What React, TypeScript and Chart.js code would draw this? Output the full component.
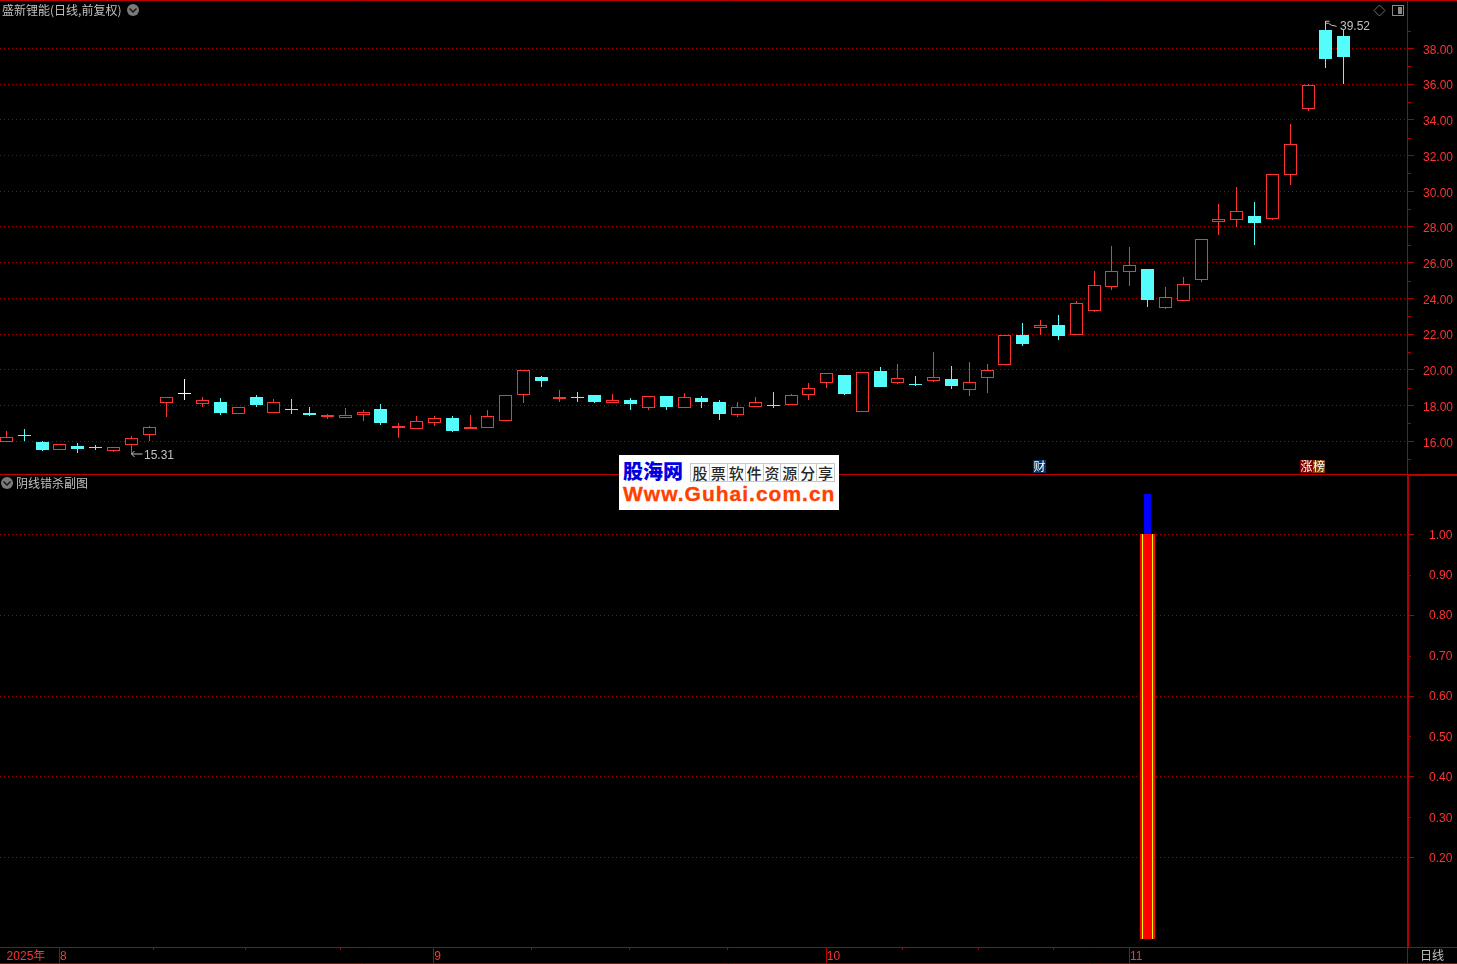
import React, { useEffect, useRef } from "react";
import { Chart, registerables } from "chart.js";

Chart.register(...registerables);

const opens = [15.98,16.34,15.96,15.53,15.74,15.68,15.47,15.81,16.37,18.16,18.72,18.11,18.20,17.55,18.48,17.60,17.81,17.58,17.36,17.32,17.46,17.81,16.73,16.71,17.04,17.30,16.69,16.76,17.15,18.58,19.60,18.37,18.48,18.59,18.16,18.31,17.88,18.54,17.88,18.42,18.20,17.49,17.90,18.02,18.05,18.61,19.28,19.71,17.66,19.94,19.26,19.19,19.39,19.49,18.89,19.56,20.29,21.95,22.36,22.50,21.97,23.31,24.66,25.50,25.65,23.48,23.87,25.05,28.30,28.41,28.62,28.47,30.93,34.59,39.03,38.70];
const closes = [16.22,16.34,15.53,15.83,15.57,15.62,15.66,16.17,16.78,18.46,18.72,18.30,17.58,17.90,18.03,18.18,17.81,17.47,17.47,17.46,17.62,17.02,16.84,17.12,17.29,16.58,16.80,17.42,18.58,19.98,19.38,18.48,18.48,18.20,18.31,18.09,18.52,17.92,18.48,18.20,17.53,17.90,18.18,18.02,18.58,18.97,19.81,18.65,19.86,19.04,19.53,19.19,19.58,19.10,19.30,19.98,21.95,21.45,22.50,21.90,23.73,24.74,25.52,25.86,23.91,24.06,24.79,27.31,28.43,28.88,28.22,30.97,32.63,35.94,37.41,37.52];
const lows = [15.98,16.02,15.44,15.53,15.34,15.51,15.42,15.31,16.02,17.38,18.31,17.92,17.47,17.55,17.92,17.60,17.53,17.42,17.25,17.32,17.14,16.91,16.18,16.71,16.86,16.52,16.69,16.76,17.15,18.14,19.04,18.20,18.20,18.14,18.16,17.75,17.75,17.75,17.88,17.86,17.19,17.36,17.90,17.86,18.05,18.31,18.98,18.59,17.66,19.04,19.21,19.10,19.32,18.93,18.54,18.71,20.29,21.33,21.95,21.67,21.97,23.24,24.47,24.70,23.52,23.41,23.87,24.94,27.55,28.00,27.00,28.41,30.37,34.51,36.92,36.00];
const highs = [16.58,16.69,16.02,15.83,15.90,15.78,15.66,16.30,16.87,18.46,19.49,18.48,18.42,17.90,18.59,18.37,18.37,17.92,17.53,17.86,17.75,18.09,17.02,17.42,17.42,17.42,17.47,17.75,18.58,19.98,19.66,18.87,18.76,18.59,18.65,18.42,18.52,18.54,18.70,18.54,18.31,18.20,18.48,18.76,18.65,19.26,19.81,19.71,19.86,20.16,20.33,19.66,21.00,20.22,20.44,20.33,21.95,22.63,22.79,23.07,23.86,25.54,26.94,26.88,25.65,24.64,25.20,27.31,29.29,30.24,29.40,30.97,33.77,36.00,39.52,39.03];
const whiteDoji = [10];

const priceTicks = [15,16,17,18,19,20,21,22,23,24,25,26,27,28,29,30,31,32,33,34,35,36,37,38,39];
const oscTicks = [0.2,0.3,0.4,0.5,0.6,0.7,0.8,0.9,1.0];

const signalIndex = [64];
const signalBase = [0];
const signalValue = [1];
const signalCap = [1.1];

const monthIndex = [-0.05, 2.94, 23.93, 45.95, 62.95];
const monthLabels = ["2025年", "8", "9", "10", "11"];
const minorTickIndex = [8.2, 13.4, 18.7, 29.4, 34.9, 40.4, 50.2, 54.5, 58.7];

const W = 1457;
const LINE = "#b00000";
const GRID = "#b00000";
const RED = "#ff3232";
const CYAN = "#54fcfc";
const GREY = "#c0c0c0";
const CLEAR = "rgba(0,0,0,0)";
const X_MIN = -6.5 / 17.83;
const X_MAX = (1408 - 6.5) / 17.83;
const NUM_FONT = '"Liberation Sans", "Noto Sans CJK SC", sans-serif';
const CJK_FONT = '"Noto Sans CJK SC", sans-serif';

const snapBars = {
  id: "snapBars",
  afterDatasetsUpdate(chart: any) {
    chart.data.datasets.forEach((_: any, i: number) => {
      chart.getDatasetMeta(i).data.forEach((el: any) => {
        el.x = Math.floor(el.x) + 0.5;
        let top = Math.round(Math.min(el.y, el.base));
        let bot = Math.round(Math.max(el.y, el.base));
        if (bot - top < 1) bot = top + 1;
        el.y = top;
        el.base = bot;
        el.height = bot - top;
      });
    });
  },
};

function line(ctx: any, x0: number, y0: number, x1: number, y1: number, color: string, w = 1) {
  ctx.strokeStyle = color;
  ctx.lineWidth = w;
  ctx.beginPath();
  ctx.moveTo(x0, y0);
  ctx.lineTo(x1, y1);
  ctx.stroke();
}

function chevron(ctx: any, cx: number, cy: number) {
  ctx.fillStyle = "#7a7a7a";
  ctx.beginPath();
  ctx.arc(cx, cy, 6, 0, Math.PI * 2);
  ctx.fill();
  ctx.strokeStyle = "#141414";
  ctx.lineWidth = 1.4;
  ctx.beginPath();
  ctx.moveTo(cx - 3.5, cy - 1.5);
  ctx.lineTo(cx, cy + 2);
  ctx.lineTo(cx + 3.5, cy - 1.5);
  ctx.stroke();
}

function text(ctx: any, s: string, x: number, y: number, color: string, font: string) {
  ctx.fillStyle = color;
  ctx.font = font;
  ctx.textAlign = "left";
  ctx.textBaseline = "middle";
  ctx.fillText(s, x, y);
}

function minorYTicks(chart: any, values: number[]) {
  const ctx = chart.ctx;
  const s = chart.scales.y;
  values.forEach((v) => {
    const y = Math.round(s.getPixelForValue(v)) + 0.5;
    line(ctx, 1408, y, 1411, y, LINE);
  });
}

const topDecor = {
  id: "topDecor",
  afterDraw(chart: any) {
    const ctx = chart.ctx;
    ctx.save();
    const xs = chart.scales.x;
    const ys = chart.scales.y;
    line(ctx, 0, 0.5, W, 0.5, "#c00000");
    line(ctx, 1407.5, 0, 1407.5, 474, LINE);
    minorYTicks(chart, priceTicks.filter((v) => v % 2 === 1));
    text(ctx, "盛新锂能(日线,前复权)", 2, 10, GREY, `12px ${CJK_FONT}`);
    chevron(ctx, 133, 10);

    // diamond + window icons
    ctx.strokeStyle = "#6e6e6e";
    ctx.lineWidth = 1;
    ctx.beginPath();
    ctx.moveTo(1379.5, 5);
    ctx.lineTo(1385, 10.5);
    ctx.lineTo(1379.5, 16);
    ctx.lineTo(1374, 10.5);
    ctx.closePath();
    ctx.stroke();
    ctx.strokeStyle = "#8a8a8a";
    ctx.strokeRect(1392.5, 5.5, 11, 10);
    ctx.fillStyle = "#8a8a8a";
    ctx.fillRect(1398, 7, 4, 7);

    // lowest / highest price notes
    const lowI = lows.indexOf(Math.min(...lows));
    const lowX = Math.floor(xs.getPixelForValue(lowI)) + 0.5;
    const lowY = Math.round(ys.getPixelForValue(lows[lowI])) + 0.5;
    line(ctx, lowX, lowY - 0.5, lowX + 11, lowY - 0.5, GREY);
    line(ctx, lowX, lowY - 0.5, lowX + 3, lowY - 3.5, GREY);
    line(ctx, lowX, lowY - 0.5, lowX + 3, lowY + 2.5, GREY);
    text(ctx, lows[lowI].toFixed(2), 144, lowY + 1, GREY, `12px ${NUM_FONT}`);

    const hiI = highs.indexOf(Math.max(...highs));
    const hiX = Math.floor(xs.getPixelForValue(hiI)) + 0.5;
    const hiY = ys.getPixelForValue(highs[hiI]);
    line(ctx, hiX, hiY, hiX + 4, hiY, GREY);
    line(ctx, hiX, hiY + 2, hiX + 3, hiY + 2, GREY);
    line(ctx, hiX + 3, hiY + 2, hiX + 6, hiY + 4, GREY);
    line(ctx, hiX + 6, hiY + 4, hiX + 11, hiY + 5, GREY);
    text(ctx, highs[hiI].toFixed(2), 1340, 27, GREY, `12px ${NUM_FONT}`);

    // badges
    ctx.fillStyle = "#003366";
    ctx.fillRect(1033, 460, 13, 13);
    text(ctx, "财", 1033.5, 466.5, "#ffffff", `12px ${CJK_FONT}`);
    ctx.fillStyle = "#800000";
    ctx.fillRect(1300, 460, 13, 13);
    ctx.fillStyle = "#804000";
    ctx.fillRect(1313, 460, 12, 13);
    text(ctx, "涨", 1300.5, 466.5, "#ffffff", `12px ${CJK_FONT}`);
    text(ctx, "榜", 1313, 466.5, "#ffffff", `12px ${CJK_FONT}`);
    ctx.restore();
  },
};

const bottomDecor = {
  id: "bottomDecor",
  afterDraw(chart: any) {
    const ctx = chart.ctx;
    ctx.save();
    const xs = chart.scales.x;
    // y offsets are relative to this canvas, which starts at page y = 474
    line(ctx, 0, 0.5, 1408, 0.5, "#c00000");
    line(ctx, 1408, 1, W, 1, "#c00000", 2);
    line(ctx, 1408, 0, 1408, 473, LINE, 2);
    line(ctx, 0, 473.5, W, 473.5, LINE);
    line(ctx, 0, 489.5, W, 489.5, LINE);
    line(ctx, 1407.5, 473, 1407.5, 490, LINE);
    monthIndex.slice(1).forEach((v) => {
      const x = Math.round(xs.getPixelForValue(v)) + 0.5;
      line(ctx, x, 473, x, 490, LINE);
    });
    minorTickIndex.forEach((v) => {
      const x = Math.round(xs.getPixelForValue(v)) + 0.5;
      line(ctx, x, 473, x, 476, LINE);
    });
    minorYTicks(chart, oscTicks.filter((v) => Math.round(v * 10) % 2 === 1));
    chevron(ctx, 7, 9);
    text(ctx, "阴线错杀副图", 16, 9, GREY, `12px ${CJK_FONT}`);
    text(ctx, "日线", 1420, 481.5, GREY, `12px ${CJK_FONT}`);
    ctx.restore();
  },
};

function yScale(min: number, max: number, ticks: number[], padding: number, labelOffset: number, isMajor: (v: number) => boolean, label: (v: number) => string) {
  return {
    type: "linear",
    position: "right",
    min,
    max,
    afterBuildTicks: (s: any) => {
      s.ticks = ticks.map((value) => ({ value }));
    },
    afterFit: (s: any) => {
      s.width = 49;
      s.paddingTop = 0;
      s.paddingBottom = 0;
    },
    border: { display: false, dash: [1, 3] },
    grid: {
      color: (c: any) => (c.tick && isMajor(c.tick.value) ? GRID : CLEAR),
      tickColor: (c: any) => (c.tick && isMajor(c.tick.value) ? LINE : CLEAR),
      tickLength: 6,
      lineWidth: 1,
    },
    ticks: {
      autoSkip: false,
      includeBounds: false,
      padding,
      labelOffset,
      color: RED,
      font: { family: NUM_FONT, size: 12 },
      callback: (v: any) => label(Number(v)),
    },
  };
}

const baseBar = { grouped: false, inflateAmount: 0, borderSkipped: false };

export default function App() {
  const topRef = useRef<HTMLCanvasElement>(null);
  const botRef = useRef<HTMLCanvasElement>(null);

  useEffect(() => {
    document.body.style.margin = "0";
    document.body.style.background = "#000";
    const up = (i: number) => closes[i] > opens[i];
    const colorOf = (i: number) => (whiteDoji.includes(i) ? "#ffffff" : up(i) ? RED : CYAN);

    const top = new Chart(topRef.current as any, {
      type: "bar",
      data: {
        datasets: [
          {
            ...baseBar,
            label: "wick",
            order: 2,
            barThickness: 1,
            borderWidth: 0,
            backgroundColor: opens.map((_, i) => colorOf(i)),
            data: lows.map((l, i) => ({ x: i, y: [l, highs[i]] })),
          },
          {
            ...baseBar,
            label: "body",
            order: 1,
            barThickness: 13,
            borderWidth: 1,
            borderColor: opens.map((_, i) => colorOf(i)),
            backgroundColor: opens.map((_, i) => (up(i) ? "#000000" : colorOf(i))),
            data: opens.map((o, i) => ({ x: i, y: [o, closes[i]] })),
          },
        ],
      } as any,
      options: {
        animation: false,
        responsive: false,
        devicePixelRatio: 1,
        layout: { padding: { top: 1, left: 0, right: 0, bottom: 0 } },
        plugins: { legend: { display: false }, tooltip: { enabled: false } },
        scales: {
          x: { type: "linear", display: false, offset: false, min: X_MIN, max: X_MAX, grid: { display: false } },
          y: yScale(
            14.169,
            40.653,
            priceTicks,
            9,
            2,
            (v) => v % 2 === 0,
            (v) => (v % 2 === 0 ? v.toFixed(2) : "")
          ),
        },
      } as any,
      plugins: [snapBars, topDecor],
    });

    const signalData = (lo: number[], hi: number[]) =>
      signalIndex.map((x, i) => ({ x, y: [lo[i], hi[i]] }));

    const bottom = new Chart(botRef.current as any, {
      type: "bar",
      data: {
        datasets: [
          { ...baseBar, label: "cap", order: 4, barThickness: 7, borderWidth: 0, backgroundColor: "#0000ff", data: signalData(signalValue, signalCap) },
          { ...baseBar, label: "outer", order: 3, barThickness: 15, borderWidth: 0, backgroundColor: "#ff0000", data: signalData(signalBase, signalValue) },
          { ...baseBar, label: "edge", order: 2, barThickness: 11, borderWidth: 0, backgroundColor: "#ffff00", data: signalData(signalBase, signalValue) },
          { ...baseBar, label: "inner", order: 1, barThickness: 9, borderWidth: 0, backgroundColor: "#ff0000", data: signalData(signalBase, signalValue) },
        ],
      } as any,
      options: {
        animation: false,
        responsive: false,
        devicePixelRatio: 1,
        layout: { padding: { top: 1, left: 0, right: 0, bottom: 0 } },
        plugins: { legend: { display: false }, tooltip: { enabled: false } },
        scales: {
          x: {
            type: "linear",
            offset: false,
            min: X_MIN,
            max: X_MAX,
            afterBuildTicks: (s: any) => {
              s.ticks = monthIndex.map((value) => ({ value }));
            },
            afterFit: (s: any) => {
              s.height = 17;
              s.paddingLeft = 0;
              s.paddingRight = 0;
            },
            border: { display: false },
            grid: { display: false, drawTicks: false },
            ticks: {
              autoSkip: false,
              includeBounds: false,
              maxRotation: 0,
              align: "start",
              labelOffset: 1,
              padding: 2,
              color: RED,
              font: { family: NUM_FONT, size: 12 },
              callback: (v: any) => {
                const i = monthIndex.indexOf(Number(v));
                return i >= 0 ? monthLabels[i] : "";
              },
            },
          },
          y: yScale(
            -0.021,
            1.1468,
            oscTicks,
            15,
            1,
            (v) => Math.round(v * 10) % 2 === 0,
            (v) => v.toFixed(2)
          ),
        },
      } as any,
      plugins: [snapBars, bottomDecor],
    });

    return () => {
      top.destroy();
      bottom.destroy();
    };
  }, []);

  return (
    <div style={{ position: "absolute", left: 0, top: 0, width: W, height: 964, background: "#000", overflow: "hidden" }}>
      <canvas ref={topRef} width={W} height={474} style={{ position: "absolute", left: 0, top: 0, width: W, height: 474 }} />
      <canvas ref={botRef} width={W} height={490} style={{ position: "absolute", left: 0, top: 474, width: W, height: 490 }} />
      <div style={{ position: "absolute", left: 619, top: 455, width: 220, height: 55, background: "#fff", overflow: "hidden" }}>
        <div style={{ position: "absolute", left: 4, top: 3, fontFamily: CJK_FONT, fontWeight: 900, fontSize: 20, lineHeight: "26px", color: "#0000e0", whiteSpace: "nowrap" }}>
          股海网
        </div>
        <div style={{ position: "absolute", left: 71, top: 8, width: 143, display: "flex", border: "1px solid #c8c8c8" }}>
          {Array.from("股票软件资源分享").map((ch, i) => (
            <span key={i} style={{ width: 17.875, height: 17, boxSizing: "border-box", borderLeft: i ? "1px solid #c8c8c8" : "none", fontFamily: CJK_FONT, fontWeight: 500, fontSize: 15, lineHeight: "17px", textAlign: "center", color: "#282828" }}>
              {ch}
            </span>
          ))}
        </div>
        <div style={{ position: "absolute", left: 4, top: 27, fontFamily: '"Liberation Sans", sans-serif', fontWeight: 700, fontSize: 21, lineHeight: "24px", color: "#ff4000", whiteSpace: "nowrap", letterSpacing: 1, WebkitTextStroke: "0.3px #ff4000" }}>
          Www.Guhai.com.cn
        </div>
      </div>
    </div>
  );
}
